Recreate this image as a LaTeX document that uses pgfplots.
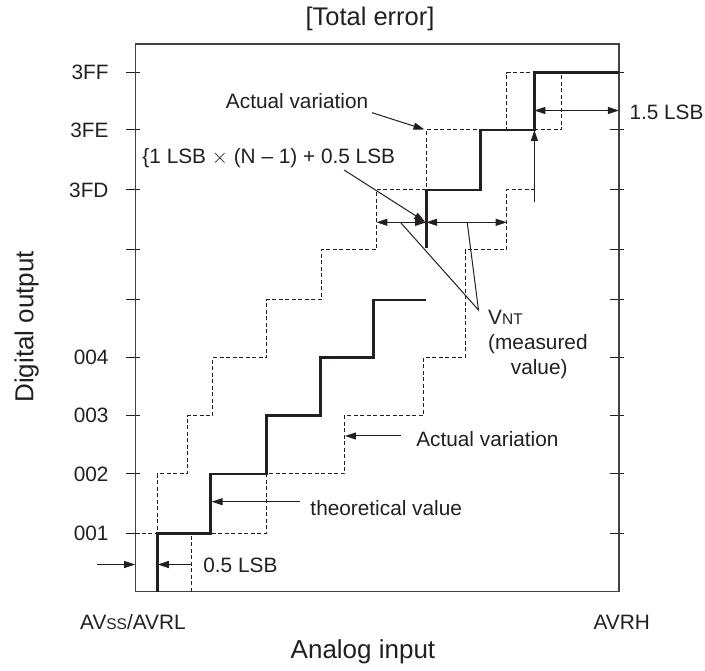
\documentclass[border=0pt]{standalone}
\usepackage{pgfplots}
\pgfplotsset{compat=1.18}
\usepackage{fontspec}
\setmainfont{Liberation Sans}
\usetikzlibrary{arrows.meta}
\definecolor{ink}{HTML}{231F20}
\newcommand\ann{\fontsize{20.8}{24}\selectfont}
\newcommand\bigf{\fontsize{26}{29}\selectfont}
\newcommand\sml{\fontsize{15.5}{16}\selectfont}

\pgfplotstableread{
x y
157.5 79.3
157.5 137.7
210.9 137.7
210.9 197
266.3 197
266.3 255.3
320.4 255.3
320.4 313.3
373.2 313.3
373.2 371
426.2 371
}\theolow
\pgfplotstableread{
x y
426.2 422.7
426.2 481
480.3 481
480.3 541
534.4 541
534.4 598.3
618.9 598.3
}\theohigh
\pgfplotstableread{
x y
135.2 137.7
157.5 137.7
157.5 197
187.2 197
187.2 255.3
212.6 255.3
212.6 313.3
266.7 313.3
266.7 371
321.4 371
321.4 421
376.5 421
376.5 481
426.2 481
426.2 541
506.7 541
506.7 598.3
534.4 598.3
}\leftvar
\pgfplotstableread{
x y
192 79.3
192 137.7
266.3 137.7
266.3 197
344.4 197
344.4 255.3
423.5 255.3
423.5 313.3
465.1 313.3
465.1 421
506.7 421
506.7 481
534.4 481
}\rightvarA
\pgfplotstableread{
x y
534.4 541
561.5 541
561.5 598.3
}\rightvarB

\begin{document}
\begin{tikzpicture}[
  arr/.style={-{Triangle[length=11pt,width=7pt]}, line width=1pt, color=ink},
  darr/.style={{Triangle[length=11pt,width=7pt]}-{Triangle[length=11pt,width=7pt]}, line width=1pt, color=ink},
]
\begin{axis}[
  scale only axis, width=483.7pt, height=547.7pt,
  xmin=135.2, xmax=618.9, ymin=79.3, ymax=627,
  axis line style={line width=1.3pt, color=ink!85},
  xtick=\empty,
  ytick={137.7,197,255.3,313.3,371,421,481,541,598.3},
  yticklabels={001,002,003,004,,,3FD,3FE,3FF},
  tick align=center, major tick length=14pt,
  ytick style={line width=1pt, color=ink, xshift=-2pt},
  yticklabel style={font=\ann, text=ink, inner sep=0pt, anchor=east, xshift=-19.5pt},
  clip=false,
]
\path (axis cs:0,0) rectangle (axis cs:705,671);

\addplot[ink, line width=1pt, dash pattern=on 4pt off 2.5pt] table[x=x,y=y] {\leftvar};
\addplot[ink, line width=1pt, dash pattern=on 4pt off 2.5pt] table[x=x,y=y] {\rightvarA};
\addplot[ink, line width=1pt, dash pattern=on 4pt off 2.5pt] table[x=x,y=y] {\rightvarB};
\addplot[ink, line width=2.8pt] table[x=x,y=y] {\theolow};
\addplot[ink, line width=2.8pt] table[x=x,y=y] {\theohigh};

% annotation arrows
\addplot[arr] coordinates {(372,558.3) (424.5,541.5)};
\addplot[arr] coordinates {(344.1,501) (425,449.3)};
\addplot[darr] coordinates {(376.5,448.7) (426.2,448.7)};
\addplot[darr] coordinates {(426.2,448.7) (506.7,448.7)};
\addplot[ink, line width=1pt] coordinates {(401,448) (478.5,361) (467.3,448)};
\addplot[arr] coordinates {(400.9,235) (345,235)};
\addplot[arr] coordinates {(300.1,169.3) (211.6,169.3)};
\addplot[arr] coordinates {(97,106.5) (135.2,106.5)};
\addplot[arr] coordinates {(191.5,106.5) (157.8,106.5)};
\addplot[darr] coordinates {(534.4,560.5) (618.9,560.5)};
\addplot[arr] coordinates {(534.4,469.3) (534.4,541)};

% texts
\node[anchor=base west, inner sep=0pt, font=\ann, text=ink] at (axis cs:225.8,562.8) {Actual variation};
\node[anchor=base west, inner sep=0pt, font=\ann, text=ink] at (axis cs:142.3,507.7) {\{1 LSB $\times$ (N -- 1) + 0.5 LSB};
\node[anchor=base west, inner sep=0pt, font=\ann, text=ink] at (axis cs:488,346) {V{\sml NT}};
\node[anchor=base west, inner sep=0pt, font=\ann, text=ink] at (axis cs:488,321.5) {(measured};
\node[anchor=base west, inner sep=0pt, font=\ann, text=ink] at (axis cs:510.7,296) {value)};
\node[anchor=base west, inner sep=0pt, font=\ann, text=ink] at (axis cs:416.1,224.3) {Actual variation};
\node[anchor=base west, inner sep=0pt, font=\ann, text=ink] at (axis cs:310.3,155) {theoretical value};
\node[anchor=base west, inner sep=0pt, font=\ann, text=ink] at (axis cs:203.2,98.3) {0.5 LSB};
\node[anchor=base west, inner sep=0pt, font=\ann, text=ink] at (axis cs:629.3,551) {1.5 LSB};
\node[anchor=base west, inner sep=0pt, font=\ann, text=ink] at (axis cs:80,41) {AV{\sml SS}/AVRL};
\node[anchor=base east, inner sep=0pt, font=\ann, text=ink] at (axis cs:650,41) {AVRH};
\node[anchor=base, inner sep=0pt, font=\bigf, text=ink] at (axis cs:363,12) {Analog input};
\node[anchor=base, inner sep=0pt, font=\fontsize{25.5}{28}\selectfont, text=ink] at (axis cs:370,645) {[Total error]};
\node[anchor=base, inner sep=0pt, font=\bigf, text=ink, rotate=90] at (axis cs:33.5,344.3) {Digital output};
\end{axis}
\end{tikzpicture}
\end{document}
